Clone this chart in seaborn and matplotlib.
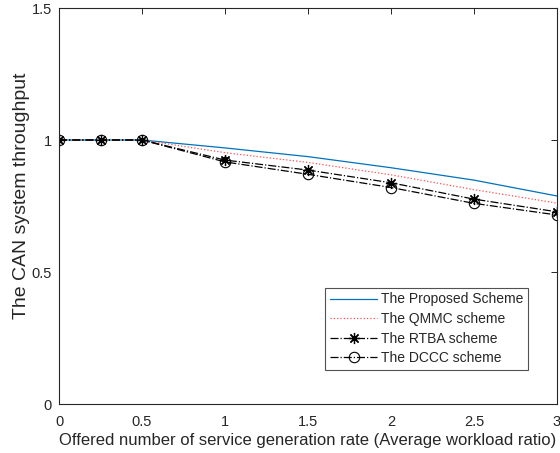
import matplotlib
matplotlib.use("Agg")
import matplotlib.pyplot as plt
import seaborn as sns
import pandas as pd

x = [0, 0.25, 0.5, 1, 1.5, 2, 2.5, 3]
proposed = [1, 1, 1, 0.970, 0.937, 0.895, 0.848, 0.788]
qmmc = [1, 1, 1, 0.952, 0.915, 0.868, 0.812, 0.761]
rtba = [1, 1, 1, 0.924, 0.886, 0.838, 0.776, 0.728]
dccc = [1, 1, 1, 0.917, 0.870, 0.820, 0.760, 0.716]
labels = ["The Proposed Scheme", "The QMMC scheme", "The RTBA scheme", "The DCCC scheme"]

sns.set_style("white")
plt.rcParams["font.family"] = ["Liberation Sans", "DejaVu Sans"]

fig = plt.figure(figsize=(5.6, 4.53), dpi=100)
ax = fig.add_axes([59 / 560, 1 - 404 / 453, 498 / 560, 396 / 453])

styles = [
    dict(color="#0072BD", linestyle="-", marker=None),
    dict(color="#FF5050", linestyle=":", marker=None),
    dict(color="black", linestyle="-.", marker=(8, 2, 0), markersize=8, markeredgewidth=0.9,
         markeredgecolor="black", markerfacecolor="black"),
    dict(color="black", linestyle="-.", marker="o", markersize=7.5, markerfacecolor="none",
         markeredgecolor="black", markeredgewidth=0.8),
]
for vals, lab, st in zip([proposed, qmmc, rtba, dccc], labels, styles):
    df = pd.DataFrame({"x": x, "y": vals})
    sns.lineplot(data=df, x="x", y="y", ax=ax, label=lab, linewidth=0.9, **st)

ax.set_xlim(0, 3)
ax.set_ylim(0, 1.5)
ax.set_xticks([0, 0.5, 1, 1.5, 2, 2.5, 3])
ax.set_xticklabels(["0", "0.5", "1", "1.5", "2", "2.5", "3"])
ax.set_yticks([0, 0.5, 1, 1.5])
ax.set_yticklabels(["0", "0.5", "1", "1.5"])
ax.tick_params(direction="in", length=4, width=0.7, labelsize=10.5, colors="#262626", top=True, right=True)
ax.tick_params(axis="x", pad=8)
ax.tick_params(axis="y", pad=5)
for sp in ax.spines.values():
    sp.set_color("#262626")
    sp.set_linewidth(0.8)
ax.set_xlabel("Offered number of service generation rate (Average workload ratio)", fontsize=12, color="#262626", labelpad=3)
ax.set_ylabel("The CAN system throughput", fontsize=14, color="#262626", labelpad=2)
ax.yaxis.set_label_coords(-0.058, 0.525)

leg = ax.legend(loc="lower right", bbox_to_anchor=(0.942, 0.086), fontsize=10, frameon=True,
                fancybox=False, edgecolor="#262626", borderpad=0.35, labelspacing=0.4,
                handlelength=3.4, handletextpad=0.25, borderaxespad=0)
leg.get_frame().set_linewidth(0.8)

fig.savefig("out.png", dpi=100)
